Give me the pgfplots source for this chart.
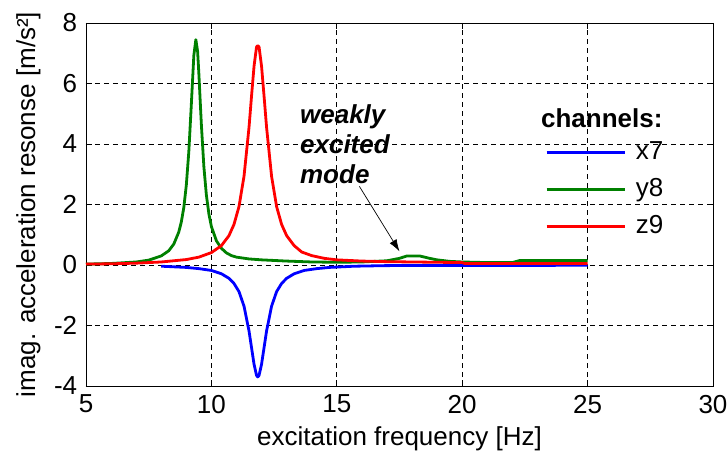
\documentclass[border=0pt]{standalone}
\usepackage{fontspec}
\setmainfont{Liberation Sans}
\usepackage{pgfplots}
\pgfplotsset{compat=1.18}
\usetikzlibrary{arrows.meta}
\definecolor{mblue}{RGB}{0,0,255}
\definecolor{mgreen}{RGB}{0,128,0}
\definecolor{mred}{RGB}{255,0,0}
\begin{document}
\fontsize{26bp}{31bp}\selectfont
\begin{tikzpicture}
\begin{axis}[
  at={(0,0)}, anchor=south west,
  scale only axis, width=627bp, height=363bp,
  xmin=5, xmax=30, ymin=-4, ymax=8,
  xtick={5,10,...,30}, ytick={-4,-2,...,8},
  tick align=inside, major tick length=6bp,
  grid=major,
  major grid style={black, line width=0.8bp, dash pattern=on 5bp off 4bp},
  axis line style={black, line width=0.9bp},
  tick style={black, line width=0.8bp},
  /pgf/number format/assume math mode=true,
  ticklabel style={font=\fontsize{26bp}{31bp}\selectfont},
  label style={font=\fontsize{26bp}{31bp}\selectfont},
  xlabel={excitation frequency [Hz]},
  ylabel={imag. acceleration resonse [m/s²]},
  xlabel style={yshift=4bp},
  ylabel style={yshift=-4bp},
  legend style={at={(rel axis cs:0.732,0.679)}, anchor=north west, draw=none, fill=none,
    font=\fontsize{26bp}{31bp}\selectfont, row sep=11bp, inner sep=0pt,
    nodes={inner sep=2bp},
    /tikz/every odd column/.append style={column sep=8bp}},
  legend cell align=left,
  legend image code/.code={\draw[#1] (0bp,0bp) -- (78bp,0bp);},
  every axis plot/.append style={line join=round},
]
\addplot[mblue, line width=2.8bp] coordinates {
(8,-0.04)(9,-0.08)(9.5,-0.12)(10,-0.18)(10.4,-0.29)(10.7,-0.44)(10.9,-0.61)(11.1,-0.88)(11.3,-1.36)(11.5,-2.18)(11.6,-2.73)(11.7,-3.28)(11.8,-3.65)(11.85,-3.7)(11.9,-3.65)(12.0,-3.28)(12.1,-2.73)(12.2,-2.18)(12.4,-1.36)(12.6,-0.88)(12.8,-0.61)(13.0,-0.44)(13.3,-0.29)(13.7,-0.18)(14.2,-0.12)(14.7,-0.08)(15.7,-0.04)(17,-0.02)(25,-0.01)
};
\addlegendentry{x7}
\addplot[mgreen, line width=2.8bp] coordinates {
(5,0.03)(6,0.05)(7,0.10)(7.5,0.16)(8,0.30)(8.3,0.47)(8.5,0.69)(8.7,1.09)(8.8,1.42)(8.9,1.90)(9.0,2.64)(9.1,3.75)(9.2,5.31)(9.3,6.93)(9.38,7.45)(9.45,7.06)(9.5,6.33)(9.6,4.64)(9.7,3.25)(9.8,2.31)(9.9,1.69)(10.0,1.27)(10.2,0.80)(10.4,0.55)(10.6,0.40)(10.8,0.31)(11,0.26)(11.5,0.20)(12,0.17)(13,0.13)(14,0.10)(15,0.09)(16,0.10)(17,0.14)(17.5,0.22)(17.8,0.30)(18.3,0.30)(18.7,0.22)(19,0.17)(19.5,0.12)(20,0.10)(21,0.08)(22,0.08)(22.3,0.15)(25,0.15)
};
\addlegendentry{y8}
\addplot[mred, line width=2.8bp] coordinates {
(5,0.03)(6,0.04)(7,0.06)(8,0.10)(9,0.18)(9.5,0.26)(10,0.41)(10.4,0.64)(10.7,0.97)(10.9,1.34)(11.1,1.93)(11.3,2.93)(11.5,4.55)(11.6,5.58)(11.7,6.57)(11.8,7.21)(11.85,7.25)(11.9,7.21)(12.0,6.57)(12.1,5.58)(12.2,4.55)(12.4,2.93)(12.6,1.93)(12.8,1.34)(13.0,0.97)(13.3,0.64)(13.6,0.43)(14,0.31)(14.5,0.22)(15,0.17)(16,0.13)(17,0.11)(18,0.10)(20,0.08)(20.1,0.05)(25,0.05)
};
\addlegendentry{z9}
\node[anchor=base west, inner sep=0pt, font=\fontsize{26bp}{31bp}\selectfont\bfseries\itshape] at (axis cs:13.53,4.69) {weakly};
\node[anchor=base west, inner sep=0pt, font=\fontsize{26bp}{31bp}\selectfont\bfseries\itshape] at (axis cs:13.53,3.70) {excited};
\node[anchor=base west, inner sep=0pt, font=\fontsize{26bp}{31bp}\selectfont\bfseries\itshape] at (axis cs:13.53,2.71) {mode};
\draw[-{Latex[length=12bp,width=8bp]}, line width=0.7bp] (axis cs:15.9,2.6) -- (axis cs:17.5,0.45);
\node[anchor=base west, inner sep=0pt, font=\fontsize{26bp}{31bp}\selectfont\bfseries] at (axis cs:23.14,4.53) {channels:};
\end{axis}
\pgfresetboundingbox
\path[use as bounding box] (-86bp,-71bp) rectangle (642bp,386bp);
\end{tikzpicture}
\end{document}
